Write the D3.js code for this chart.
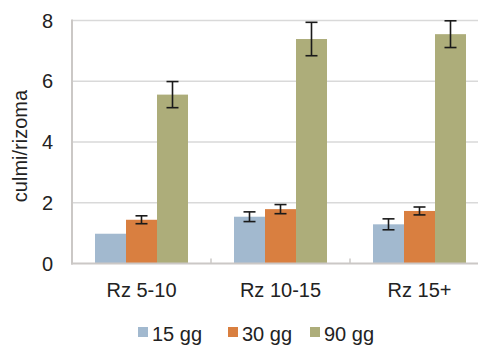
<!DOCTYPE html>
<html><head><meta charset="utf-8">
<script src="https://cdn.jsdelivr.net/npm/d3@7"></script>
<style>html,body{margin:0;padding:0;background:#fff;}svg{display:block;font-family:"Liberation Sans",Arial,sans-serif;}</style>
</head><body>
<script>
const categories = ["Rz 5-10", "Rz 10-15", "Rz 15+"];
const series = ["15 gg", "30 gg", "90 gg"];
const colors = ["#a2b9cf", "#d97f40", "#adad7a"];
const values15 = [0.98, 1.54, 1.29];
const values30 = [1.44, 1.79, 1.73];
const values90 = [5.56, 7.39, 7.55];
const err15 = [0, 0.16, 0.18];
const err30 = [0.13, 0.15, 0.13];
const err90 = [0.43, 0.55, 0.44];
const yTicks = [0, 2, 4, 6, 8];

(function () {
const W = 478, H = 345;
const mLeft = 72, mBottom = 263.5, mTop = 20.5;
const bandW = 139;
const svg = d3.select("body").append("svg").attr("width", W).attr("height", H);

const x0 = d3.scaleBand().domain(categories).range([mLeft, mLeft + bandW * 3]).padding(0);
const x1 = d3.scaleBand().domain(series).range([23, bandW - 23]).padding(0);
const y = d3.scaleLinear().domain([0, 8]).range([mBottom, mTop]);

// gridlines
svg.append("g").selectAll("line").data(yTicks.filter(t => t > 0)).join("line")
  .attr("x1", mLeft).attr("x2", W).attr("y1", d => y(d)).attr("y2", d => y(d))
  .attr("stroke", "#d9d9d9").attr("stroke-width", 1.5);

// y tick labels
svg.append("g").selectAll("text").data(yTicks).join("text")
  .attr("x", 53).attr("y", d => y(d)).attr("dy", "0.35em")
  .attr("text-anchor", "end").attr("font-size", 20).attr("fill", "#222")
  .text(d => d);

// y title
svg.append("text").attr("transform", "translate(27,146) rotate(-90)")
  .attr("text-anchor", "middle").attr("font-size", 20).attr("fill", "#222")
  .text("culmi/rizoma");

const vals = [values15, values30, values90];
const errs = [err15, err30, err90];
const data = [];
categories.forEach((c, i) => series.forEach((s, j) => data.push({c, s, j, v: vals[j][i], e: errs[j][i]})));

svg.append("g").selectAll("rect").data(data).join("rect")
  .attr("x", d => x0(d.c) + x1(d.s)).attr("width", x1.bandwidth())
  .attr("y", d => y(d.v)).attr("height", d => y(0) - y(d.v))
  .attr("fill", d => colors[d.j]);

// error bars
const eg = svg.append("g").attr("stroke", "#1a1a1a").attr("stroke-width", 1.6);
data.filter(d => d.e > 0).forEach(d => {
  const cx = x0(d.c) + x1(d.s) + x1.bandwidth() / 2;
  eg.append("line").attr("x1", cx).attr("x2", cx).attr("y1", y(d.v + d.e)).attr("y2", y(d.v - d.e));
  eg.append("line").attr("x1", cx - 6).attr("x2", cx + 6).attr("y1", y(d.v + d.e)).attr("y2", y(d.v + d.e));
  eg.append("line").attr("x1", cx - 6).attr("x2", cx + 6).attr("y1", y(d.v - d.e)).attr("y2", y(d.v - d.e));
});

// axes
svg.append("line").attr("x1", mLeft).attr("x2", mLeft).attr("y1", mTop - 1).attr("y2", mBottom + 1)
  .attr("stroke", "#cbc8c6").attr("stroke-width", 2);
svg.append("line").attr("x1", mLeft - 1).attr("x2", W).attr("y1", mBottom).attr("y2", mBottom)
  .attr("stroke", "#cbc8c6").attr("stroke-width", 2);
svg.append("g").selectAll("line").data(categories.slice(1)).join("line")
  .attr("x1", d => x0(d)).attr("x2", d => x0(d)).attr("y1", mBottom - 5).attr("y2", mBottom)
  .attr("stroke", "#cbc8c6").attr("stroke-width", 1.5);

// x labels
svg.append("g").selectAll("text").data(categories).join("text")
  .attr("x", d => x0(d) + bandW / 2).attr("y", 297)
  .attr("text-anchor", "middle").attr("font-size", 20).attr("fill", "#222")
  .text(d => d);

// legend
const legX = [138, 228, 310];
const lg = svg.append("g").selectAll("g").data(series).join("g")
  .attr("transform", (d, i) => `translate(${legX[i]},327)`);
lg.append("rect").attr("width", 10).attr("height", 10).attr("fill", (d, i) => colors[i]);
lg.append("text").attr("x", 14).attr("y", 13.5).attr("font-size", 20).attr("fill", "#222").text(d => d);
})();
</script>
</body></html>
